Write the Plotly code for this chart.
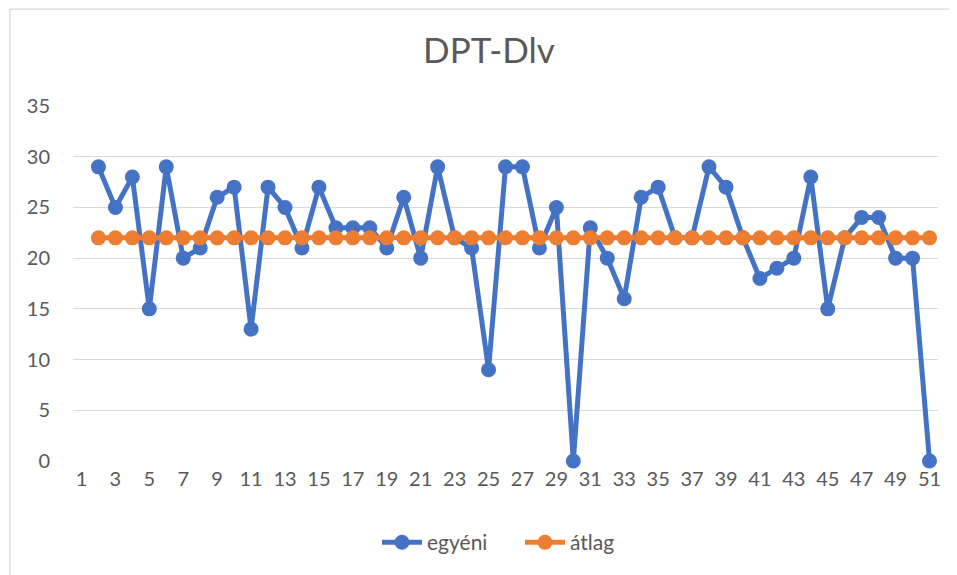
import plotly.graph_objects as go

categories = list(range(1, 52))
egyeni = [None, 29, 25, 28, 15, 29, 20, 21, 26, 27, 13, 27, 25, 21, 27, 23, 23, 23, 21, 26,
          20, 29, 22, 21, 9, 29, 29, 21, 25, 0, 23, 20, 16, 26, 27, 22, 22, 29, 27, 22,
          18, 19, 20, 28, 15, 22, 24, 24, 20, 20, 0]
atlag = [None] + [22] * 50
x_ticks = list(range(1, 52, 2))
y_ticks = [0, 5, 10, 15, 20, 25, 30, 35]

FONT = "Lato, Carlito, Calibri, sans-serif"
GRAY = "#595959"

W, H = 949, 567
L, R, T, B = 65, 19, 98, 112
PW, PH = W - L - R, H - T - B

fig = go.Figure()
fig.add_trace(go.Scatter(
    x=categories, y=egyeni, name="egyéni", mode="lines+markers",
    line=dict(color="#4472C4", width=5), marker=dict(color="#4472C4", size=15),
    cliponaxis=False, connectgaps=False))
fig.add_trace(go.Scatter(
    x=categories, y=atlag, name="átlag", mode="lines+markers",
    line=dict(color="#ED7D31", width=5), marker=dict(color="#ED7D31", size=15),
    cliponaxis=False))

bx = (2 - L) / PW
by = (H - B - 0.5) / PH

fig.update_layout(
    width=W, height=H,
    margin=dict(l=L, r=R, t=T, b=B),
    paper_bgcolor="white", plot_bgcolor="white",
    font=dict(family=FONT, color=GRAY, size=20),
    title=dict(text="DPT-Dlv", x=481 / W, xanchor="center", y=1 - 43 / H, yanchor="middle",
               font=dict(family=FONT, size=35, color=GRAY)),
    showlegend=True,
    legend=dict(orientation="h", x=(369 - L) / PW, xanchor="left",
                y=(H - B - 537) / PH, yanchor="middle",
                font=dict(family=FONT, size=21, color=GRAY), itemwidth=40,
                entrywidth=88, entrywidthmode="pixels"),
    xaxis=dict(range=[0.5, 51.5], tickmode="array", tickvals=x_ticks,
               ticktext=[str(v) for v in x_ticks], showgrid=False, zeroline=False,
               showline=False, ticks="", ticklabelstandoff=4,
               tickfont=dict(size=20, color=GRAY)),
    yaxis=dict(range=[0, 35], tickmode="array", tickvals=y_ticks,
               showgrid=True, gridcolor="#D9D9D9", gridwidth=1.3, zeroline=False,
               showline=False, ticks="", ticklabelstandoff=22,
               tickfont=dict(size=20, color=GRAY)),
    shapes=[
        dict(type="line", xref="paper", yref="paper", x0=bx, x1=1.2,
             y0=by, y1=by, line=dict(color="#D9D9D9", width=1.3)),
        dict(type="line", xref="paper", yref="paper", x0=bx, x1=bx,
             y0=by, y1=-0.5, line=dict(color="#D9D9D9", width=1.3)),
    ],
)

fig.write_html("out.html")
